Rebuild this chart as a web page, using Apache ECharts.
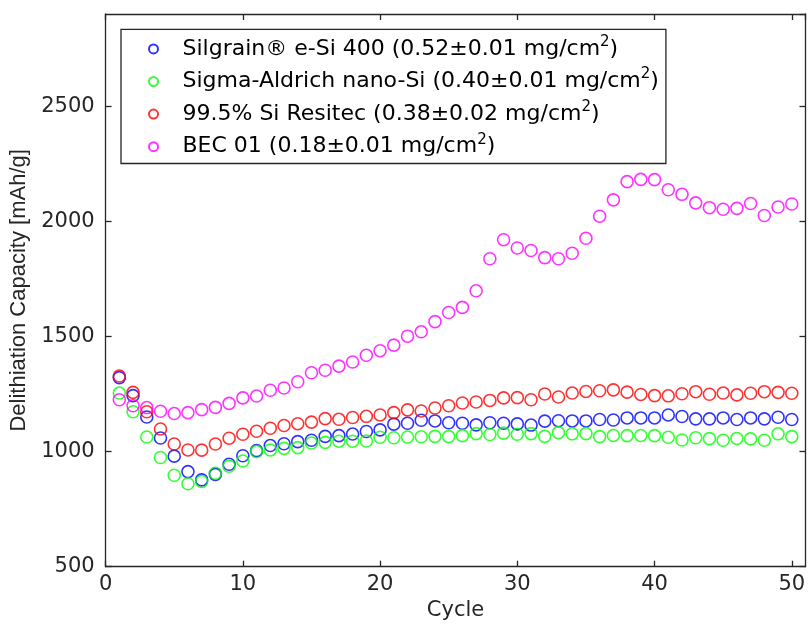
<!DOCTYPE html>
<html>
<head>
<meta charset="utf-8">
<script src="https://cdn.jsdelivr.net/npm/echarts@6/dist/echarts.min.js"></script>
<style>
  html, body { margin: 0; padding: 0; background: #fff; }
  #chart { width: 809px; height: 626px; }
</style>
</head>
<body>
<div id="chart"></div>
<script>
// Cycle numbers
const cycles = [1, 2, 3, 4, 5, 6, 7, 8, 9, 10, 11, 12, 13, 14, 15, 16, 17, 18, 19, 20,
  21, 22, 23, 24, 25, 26, 27, 28, 29, 30, 31, 32, 33, 34, 35, 36, 37, 38, 39, 40,
  41, 42, 43, 44, 45, 46, 47, 48, 49, 50];

// Delithiation capacity [mAh/g] per cycle
const silgrain = [1321, 1243, 1150, 1059, 980, 913, 877, 901, 945, 982,
  1004, 1026, 1034, 1043, 1049, 1066, 1069, 1076, 1087, 1094,
  1119, 1123, 1136, 1133, 1125, 1123, 1116, 1125, 1123, 1120,
  1115, 1132, 1134, 1133, 1133, 1139, 1137, 1146, 1146, 1146,
  1159, 1152, 1142, 1142, 1146, 1139, 1146, 1142, 1149, 1139];

const sigmaAldrich = [1254, 1173, 1063, 974, 897, 860, 870, 906, 936, 959,
  1000, 1007, 1014, 1017, 1037, 1040, 1045, 1045, 1046, 1062,
  1060, 1063, 1064, 1066, 1065, 1069, 1078, 1074, 1080, 1075,
  1078, 1066, 1082, 1077, 1078, 1065, 1070, 1069, 1070, 1069,
  1062, 1050, 1060, 1056, 1049, 1057, 1055, 1049, 1077, 1065];

const resitec = [1328, 1257, 1173, 1098, 1033, 1007, 1006, 1033, 1058, 1075,
  1088, 1101, 1113, 1121, 1128, 1143, 1140, 1148, 1153, 1159,
  1169, 1181, 1176, 1189, 1199, 1211, 1215, 1222, 1233, 1234,
  1225, 1250, 1237, 1254, 1261, 1264, 1268, 1258, 1248, 1243,
  1242, 1251, 1260, 1249, 1254, 1246, 1253, 1260, 1257, 1253];

const bec01 = [1225, 1199, 1191, 1175, 1165, 1169, 1182, 1192, 1209, 1233,
  1241, 1266, 1276, 1303, 1342, 1353, 1371, 1389, 1418, 1438,
  1462, 1501, 1520, 1564, 1604, 1626, 1698, 1837, 1920, 1884,
  1873, 1842, 1837, 1861, 1926, 2022, 2093, 2172, 2182, 2181,
  2137, 2117, 2080, 2059, 2052, 2056, 2077, 2025, 2062, 2075];

const seriesNames = [
  'Silgrain® e-Si 400 (0.52±0.01 mg/cm²)',
  'Sigma-Aldrich nano-Si (0.40±0.01 mg/cm²)',
  '99.5% Si Resitec (0.38±0.02 mg/cm²)',
  'BEC 01 (0.18±0.01 mg/cm²)'
];
const seriesValues = [silgrain, sigmaAldrich, resitec, bec01];
const seriesColors = ['#0000ff', '#00ff00', '#ff0000', '#ff00ff'];

const xTicks = { min: 0, max: 51, interval: 10 };
const yTicks = { min: 500, max: 2900, interval: 500 };

const FONT = 'DejaVu Sans';
const NAME_FONT = 'Liberation Sans';
const INK = '#262626';

const chart = echarts.init(document.getElementById('chart'), null, { renderer: 'canvas' });

function axisCommon(showLabels, margin) {
  return {
    axisLine: { show: true, onZero: false, lineStyle: { color: INK, width: 1.3 } },
    axisTick: { show: true, inside: true, length: 6, lineStyle: { color: INK, width: 1.3 } },
    splitLine: { show: false },
    axisLabel: {
      show: showLabels,
      color: INK,
      fontFamily: FONT,
      fontSize: 21,
      margin: margin,
      showMaxLabel: false,
      formatter: v => String(v)
    }
  };
}

const series = seriesNames.map((name, i) => ({
  name: name,
  type: 'scatter',
  xAxisIndex: 0,
  yAxisIndex: 0,
  symbol: 'circle',
  symbolSize: 12,
  itemStyle: {
    color: 'rgba(255,255,255,0)',
    borderColor: seriesColors[i],
    borderWidth: 1.6
  },
  emphasis: { disabled: true },
  data: cycles.map((c, k) => [c, seriesValues[i][k]])
}));

chart.setOption({
  animation: false,
  backgroundColor: '#fff',
  grid: { left: 105.6, right: 3.5, top: 14, bottom: 59.3, containLabel: false },
  xAxis: [
    Object.assign(axisCommon(true, 7), {
      type: 'value', position: 'bottom',
      min: xTicks.min, max: xTicks.max, interval: xTicks.interval,
      name: 'Cycle', nameLocation: 'middle', nameGap: 31,
      nameTextStyle: { color: INK, fontFamily: FONT, fontSize: 21 }
    }),
    Object.assign(axisCommon(false, 7), {
      type: 'value', position: 'top',
      min: xTicks.min, max: xTicks.max, interval: xTicks.interval
    })
  ],
  yAxis: [
    Object.assign(axisCommon(true, 11), {
      type: 'value', position: 'left',
      min: yTicks.min, max: yTicks.max, interval: yTicks.interval,
      name: 'Delithiation Capacity [mAh/g]', nameLocation: 'middle', nameGap: 75,
      nameTextStyle: { color: INK, fontFamily: NAME_FONT, fontSize: 22 }
    }),
    Object.assign(axisCommon(false, 11), {
      type: 'value', position: 'right',
      min: yTicks.min, max: yTicks.max, interval: yTicks.interval
    })
  ],
  legend: {
    orient: 'vertical',
    left: 121,
    top: 29.3,
    padding: [5.1, 7, 2.3, 27],
    itemGap: 3.6,
    itemWidth: 48,
    itemHeight: 9,
    backgroundColor: '#fff',
    borderColor: INK,
    borderWidth: 1.3,
    selectedMode: false,
    formatter: name => name.replace('²', '{sup|2}'),
    textStyle: {
      color: '#000',
      fontFamily: FONT,
      fontSize: 22,
      lineHeight: 22,
      rich: {
        sup: { fontFamily: FONT, fontSize: 15, lineHeight: 8, padding: [0, 0, 14, 0], color: '#000' }
      }
    },
    data: seriesNames
  },
  series: series
});
</script>
</body>
</html>
